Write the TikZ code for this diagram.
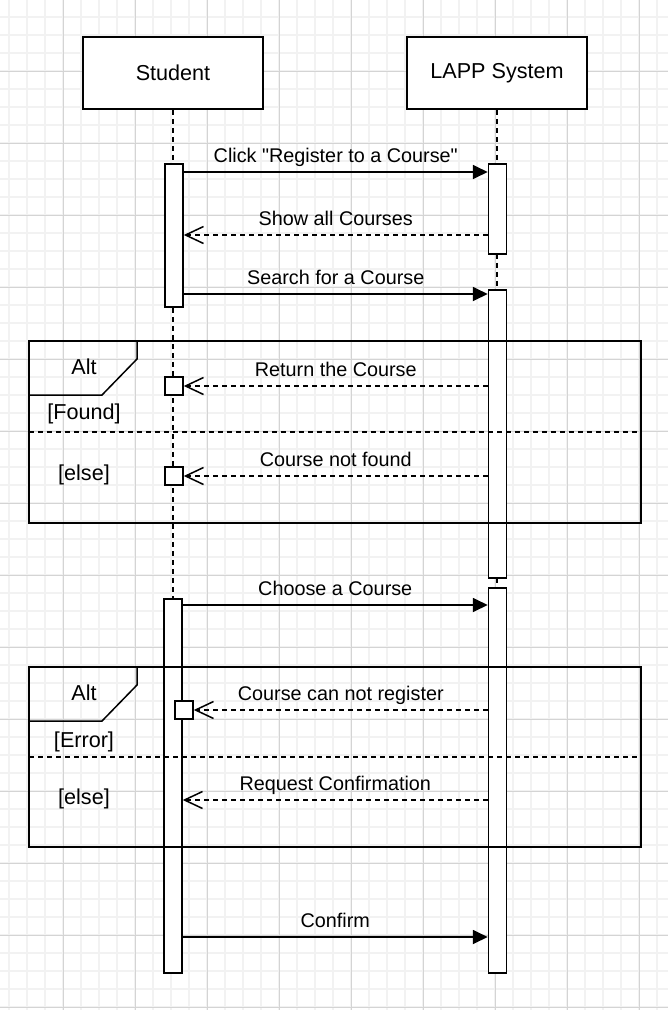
\documentclass[tikz,border=0pt]{standalone}
\usepackage{fontspec}
\setmainfont[Ligatures=TeXOff]{Liberation Sans}
\usetikzlibrary{arrows.meta}
\definecolor{gminor}{HTML}{F2F2F2}
\definecolor{gmajor}{HTML}{D4D4D4}
\tikzset{
  minorgrid/.style={draw=gminor,line width=1.2pt},
  majorgrid/.style={draw=gmajor,line width=0.8pt},
  part/.style={draw,line width=1.5pt,fill=white,minimum width=180pt,minimum height=72pt,inner sep=0pt,font=\fontsize{21.6}{26}\selectfont},
  act/.style={draw,line width=1.5pt,fill=white,minimum width=18pt,inner sep=0pt,anchor=north},
  sbox/.style={draw,line width=1.5pt,fill=white,minimum width=18pt,minimum height=18pt,inner sep=0pt},
  life/.style={line width=1.5pt,dash pattern=on 5pt off 4pt},
  msg/.style={line width=1.8pt,-{Triangle[length=15pt,width=14pt]}},
  ret/.style={line width=1.5pt,dash pattern=on 5pt off 4pt,-{Straight Barb[length=18pt,width=17pt,line width=1.5pt]}},
  lbl/.style={font=\fontsize{19.8}{24}\selectfont,inner sep=0pt,anchor=base,yshift=10pt},
  flbl/.style={font=\fontsize{21.6}{26}\selectfont,inner sep=0pt},
  frame/.style={line width=1.5pt},
  sep/.style={line width=1.5pt,dash pattern=on 5pt off 4pt},
}
\begin{document}
\begin{tikzpicture}[x=1pt,y=-1pt]
\useasboundingbox (0,0) rectangle (668,1010);
% grid
\foreach \x in {9,27,...,657} \draw[minorgrid] (\x,0) -- (\x,1010);
\foreach \y in {17,35,...,1007} \draw[minorgrid] (0,\y) -- (668,\y);
\foreach \x in {63,135,...,639} \draw[majorgrid] (\x,0) -- (\x,1010);
\foreach \y in {71,143,...,1007} \draw[majorgrid] (0,\y) -- (668,\y);

% participants
\node[part] (student) at (173,73) {Student};
\node[part] (lapp) at (497,73) {LAPP System};
\coordinate (bot) at (0,972);
\draw[life] (student.south) -- (student.south |- bot);
\draw[life] (lapp.south) -- (lapp.south |- bot);

% activations
\node[act,minimum height=143pt] (sa1) at (174,163) {};
\node[act,minimum height=374pt] (sa2) at (173,598) {};
\node[act,minimum height=90pt] (la1) at (497.5,163) {};
\node[act,minimum height=288pt] (la2) at (497.5,289) {};
\node[act,minimum height=385pt] (la3) at (497.5,587) {};

% small boxes
\node[sbox] (b1) at (174,386) {};
\node[sbox] (b2) at (174,476) {};
\node[sbox] (b3) at (184,710) {};

% message y coordinates
\coordinate (y1) at (0,172);
\coordinate (y2) at (0,235);
\coordinate (y3) at (0,294);
\coordinate (y4) at (0,605);
\coordinate (y5) at (0,800);
\coordinate (y6) at (0,937);

% messages
\draw[msg] (sa1.east |- y1) -- node[lbl] (t1) {Click "Register to a Course"} (la1.west |- y1);
\draw[ret] (la1.west |- y2) -- node[lbl] (t2) {Show all Courses} (sa1.east |- y2);
\draw[msg] (sa1.east |- y3) -- node[lbl] (t3) {Search for a Course} (la2.west |- y3);
\draw[ret] (la2.west |- b1) -- node[lbl] (t4) {Return the Course} (b1.east);
\draw[ret] (la2.west |- b2) -- node[lbl] (t5) {Course not found} (b2.east);
\draw[msg] (sa2.east |- y4) -- node[lbl] (t6) {Choose a Course} (la3.west |- y4);
\draw[ret] (la3.west |- b3) -- node[lbl] (t7) {Course can not register} (b3.east);
\draw[ret] (la3.west |- y5) -- node[lbl] (t8) {Request Confirmation} (sa2.east |- y5);
\draw[msg] (sa2.east |- y6) -- node[lbl] (t9) {Confirm} (la3.west |- y6);

% alt frame 1
\coordinate (f1a) at (29,341);
\coordinate (f1b) at (641,523);
\draw[frame] (f1a) rectangle (f1b);
\draw[frame] (29,395) -- (102,395) -- (137,359) -- (137,341);
\draw[sep] (29,432) -- (641,432);
\node[flbl] (alt1) at (84,367) {Alt};
\node[flbl] (g1) at (84,414) {[Found]};
\node[flbl] (g2) at (84,475) {[else]};

% alt frame 2
\coordinate (f2a) at (29,667);
\coordinate (f2b) at (641,847);
\draw[frame] (f2a) rectangle (f2b);
\draw[frame] (29,721) -- (102,721) -- (137,685) -- (137,667);
\draw[sep] (29,757) -- (641,757);
\node[flbl] (alt2) at (84,693) {Alt};
\node[flbl] (g3) at (84,742) {[Error]};
\node[flbl] (g4) at (84,799) {[else]};
\end{tikzpicture}
\end{document}
